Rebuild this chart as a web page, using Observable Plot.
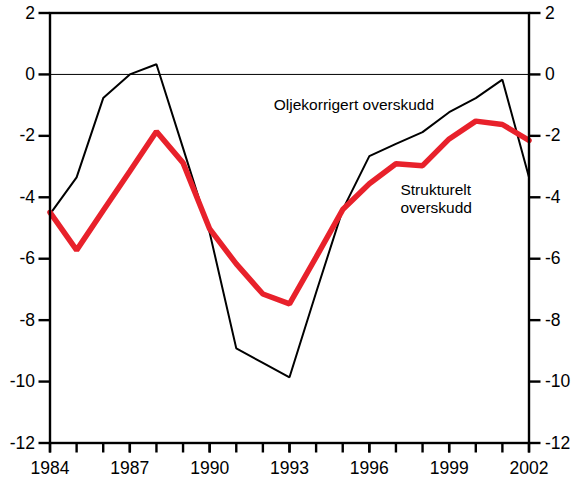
<!DOCTYPE html>
<html>
<head>
<meta charset="utf-8">
<script src="https://cdn.jsdelivr.net/npm/d3@7"></script>
<script src="https://cdn.jsdelivr.net/npm/@observablehq/plot@0.6"></script>
<style>
  html, body { margin: 0; padding: 0; background: #fff; }
  #chart svg { display: block; }
</style>
</head>
<body>
<div id="chart"></div>
<script>
const years = [1984, 1985, 1986, 1987, 1988, 1989, 1990, 1991, 1992, 1993, 1994, 1995, 1996, 1997, 1998, 1999, 2000, 2001, 2002];
const oljekorrigert = [-4.55, -3.35, -0.77, 0.0, 0.33, -2.4, -5.15, -8.92, -9.39, -9.86, -7.1, -4.4, -2.66, -2.26, -1.88, -1.23, -0.77, -0.17, -3.35];
const strukturelt = [-4.49, -5.72, -4.43, -3.15, -1.86, -2.88, -5.03, -6.17, -7.15, -7.47, -5.95, -4.4, -3.56, -2.91, -2.97, -2.10, -1.52, -1.63, -2.15];
const yTicks = [-12, -10, -8, -6, -4, -2, 0, 2];
const xLabelTicks = [1984, 1987, 1990, 1993, 1996, 1999, 2002];
const labelOlje = "Oljekorrigert overskudd";
const labelStruk = "Strukturelt\noverskudd";

const oljeData = years.map((y, i) => ({year: y, value: oljekorrigert[i]}));
const strukData = years.map((y, i) => ({year: y, value: strukturelt[i]}));

const font = "'Liberation Sans', Arial, sans-serif";
const axisW = 2.4;

const chart = Plot.plot({
  width: 574,
  height: 481,
  marginLeft: 49.5,
  marginRight: 45.5,
  marginTop: 12.5,
  marginBottom: 38.5,
  style: {fontFamily: font, background: "#fff", color: "#000"},
  x: {domain: [1984, 2002]},
  y: {domain: [-12, 2]},
  marks: [
    Plot.ruleY([0], {stroke: "#000", strokeWidth: 1}),
    Plot.line(oljeData, {x: "year", y: "value", stroke: "#000", strokeWidth: 2, strokeLinejoin: "miter"}),
    Plot.line(strukData, {x: "year", y: "value", stroke: "#e8212b", strokeWidth: 5.5, strokeLinejoin: "miter"}),
    Plot.text([labelOlje], {x: 1992.41, y: -1.01, text: d => d, textAnchor: "start", lineAnchor: "middle", fontSize: 15.5, fill: "#000"}),
    Plot.text([labelStruk], {x: 1997.17, y: -3.51, text: d => d, textAnchor: "start", lineAnchor: "top", lineHeight: 1.16, fontSize: 15.5, fill: "#000"}),
    Plot.axisY({anchor: "left", ticks: yTicks, tickSize: 11, tickPadding: 4, tickFormat: d => String(d), fontSize: 17.5, strokeWidth: axisW, label: null}),
    Plot.axisY({anchor: "right", ticks: yTicks, tickSize: 11, tickPadding: 5, tickFormat: d => String(d), fontSize: 17.5, strokeWidth: axisW, label: null}),
    Plot.axisX({anchor: "bottom", ticks: years, tickSize: 10, tickFormat: () => "", strokeWidth: axisW, label: null}),
    Plot.axisX({anchor: "bottom", ticks: xLabelTicks, tickSize: 10, tickPadding: 9, tickFormat: d => String(d), fontSize: 17.5, strokeWidth: axisW, label: null}),
    Plot.frame({stroke: "#000", strokeWidth: axisW})
  ]
});
document.getElementById("chart").appendChild(chart);
</script>
</body>
</html>
